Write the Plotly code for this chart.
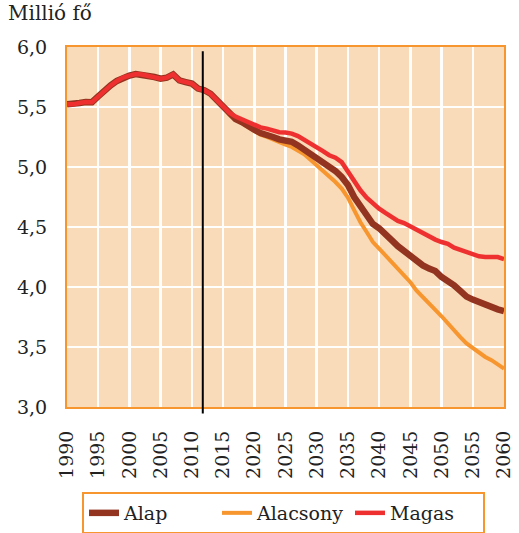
import plotly.graph_objects as go

# ---- data ----
YEARS = list(range(1990, 2061))

# observed period (identical for all three scenarios), 1990-2015
HIST = [5.522, 5.522, 5.533, 5.542, 5.540, 5.589, 5.639, 5.680, 5.717, 5.745,
        5.762, 5.775, 5.770, 5.756, 5.750, 5.736, 5.745, 5.772, 5.722, 5.708,
        5.695, 5.653, 5.640, 5.610, 5.560, 5.510]

# projections 2016-2060
ALAP_PROJ = [5.445, 5.400, 5.375, 5.350, 5.310,
             5.283, 5.270, 5.250, 5.230, 5.220,
             5.210, 5.180, 5.147, 5.110, 5.070,
             5.033, 5.000, 4.967, 4.917, 4.850,
             4.750, 4.667, 4.590, 4.525, 4.490,
             4.430, 4.390, 4.340, 4.300, 4.255,
             4.217, 4.180, 4.153, 4.133, 4.083,
             4.056, 4.014, 3.967, 3.920, 3.895,
             3.873, 3.850, 3.833, 3.814, 3.800]
ALACSONY_PROJ = [5.437, 5.395, 5.367, 5.333, 5.300,
                 5.270, 5.250, 5.228, 5.200, 5.187,
                 5.167, 5.140, 5.106, 5.060, 5.014,
                 4.970, 4.930, 4.875, 4.820, 4.745,
                 4.640, 4.540, 4.458, 4.375, 4.320,
                 4.264, 4.210, 4.153, 4.100, 4.040,
                 3.970, 3.920, 3.867, 3.810, 3.756,
                 3.695, 3.640, 3.583, 3.530, 3.490,
                 3.450, 3.417, 3.390, 3.356, 3.320]
MAGAS_PROJ = [5.453, 5.420, 5.395, 5.370, 5.348,
              5.330, 5.320, 5.306, 5.290, 5.287,
              5.278, 5.258, 5.228, 5.200, 5.167,
              5.133, 5.098, 5.078, 5.040, 4.965,
              4.875, 4.806, 4.745, 4.695, 4.653,
              4.617, 4.583, 4.550, 4.533, 4.506,
              4.478, 4.445, 4.417, 4.395, 4.375,
              4.360, 4.328, 4.310, 4.290, 4.278,
              4.256, 4.250, 4.250, 4.250, 4.233]

ALAP = HIST + ALAP_PROJ
ALACSONY = HIST + ALACSONY_PROJ
MAGAS = HIST + MAGAS_PROJ

PROJECTION_MARK = 2011.75

SERIES_NAMES = ["Alap", "Alacsony", "Magas"]
UNIT_LABEL = "Millió fő"

# ---- style ----
FONT = "DejaVu Serif"
TXT = "#222222"
C_ALAP = "#933420"
C_ALACSONY = "#F7962F"
C_MAGAS = "#EE3130"
C_BORDER = "#F7962F"
C_BG = "#F9DBB9"
C_GRID = "rgb(254,254,253)"

fig = go.Figure()
# draw order: Alacsony (bottom), Alap, Magas (top)
fig.add_trace(go.Scatter(x=YEARS, y=ALACSONY, name=SERIES_NAMES[1], mode="lines",
                         line=dict(color=C_ALACSONY, width=4), legendrank=2))
fig.add_trace(go.Scatter(x=YEARS, y=ALAP, name=SERIES_NAMES[0], mode="lines",
                         line=dict(color=C_ALAP, width=6.5), legendrank=1))
fig.add_trace(go.Scatter(x=YEARS, y=MAGAS, name=SERIES_NAMES[2], mode="lines",
                         line=dict(color=C_MAGAS, width=4.5), legendrank=3))

fig.add_shape(type="line", xref="x", yref="paper",
              x0=PROJECTION_MARK, x1=PROJECTION_MARK, y0=-0.018, y1=0.988,
              line=dict(color="black", width=2), layer="above")

fig.update_layout(
    template="none",
    width=519, height=533,
    margin=dict(l=67, r=15, t=47, b=126, autoexpand=False),
    paper_bgcolor="white",
    plot_bgcolor=C_BG,
    separators=", ",
    hovermode=False,
    font=dict(family=FONT, size=19, color=TXT),
    title=dict(text=UNIT_LABEL, x=8 / 519, xanchor="left", xref="container",
               y=1 - 6 / 533, yanchor="top", yref="container", automargin=False,
               font=dict(family=FONT, size=20, color=TXT)),
    showlegend=True,
    legend=dict(orientation="h", xref="container", yref="container",
                x=82 / 519, y=1 - 492 / 533, xanchor="left", yanchor="top",
                bgcolor="white", bordercolor=C_BORDER, borderwidth=2,
                font=dict(family=FONT, size=19, color=TXT),
                entrywidth=88, entrywidthmode="pixels",
                traceorder="normal"),
    xaxis=dict(range=[1990, 2060], tickmode="linear", tick0=1990, dtick=5,
               tickangle=-90,
               showgrid=True, gridcolor=C_GRID, gridwidth=2.5,
               showline=True, linecolor=C_BORDER, linewidth=2, mirror=True,
               ticks="", zeroline=False, ticklabelstandoff=14, automargin=False,
               tickfont=dict(family=FONT, size=19, color=TXT)),
    yaxis=dict(range=[3, 6], tickmode="linear", tick0=3, dtick=0.5, tickformat=".1f",
               showgrid=True, gridcolor=C_GRID, gridwidth=2.5,
               showline=True, linecolor=C_BORDER, linewidth=2, mirror=True,
               ticks="", zeroline=False, ticklabelstandoff=14, automargin=False,
               tickfont=dict(family=FONT, size=19, color=TXT)),
)

fig.write_html("out.html",
               config={"displayModeBar": False, "staticPlot": True},
               post_script="document.body.style.margin='0px';"
                           "document.body.style.overflow='hidden';")
